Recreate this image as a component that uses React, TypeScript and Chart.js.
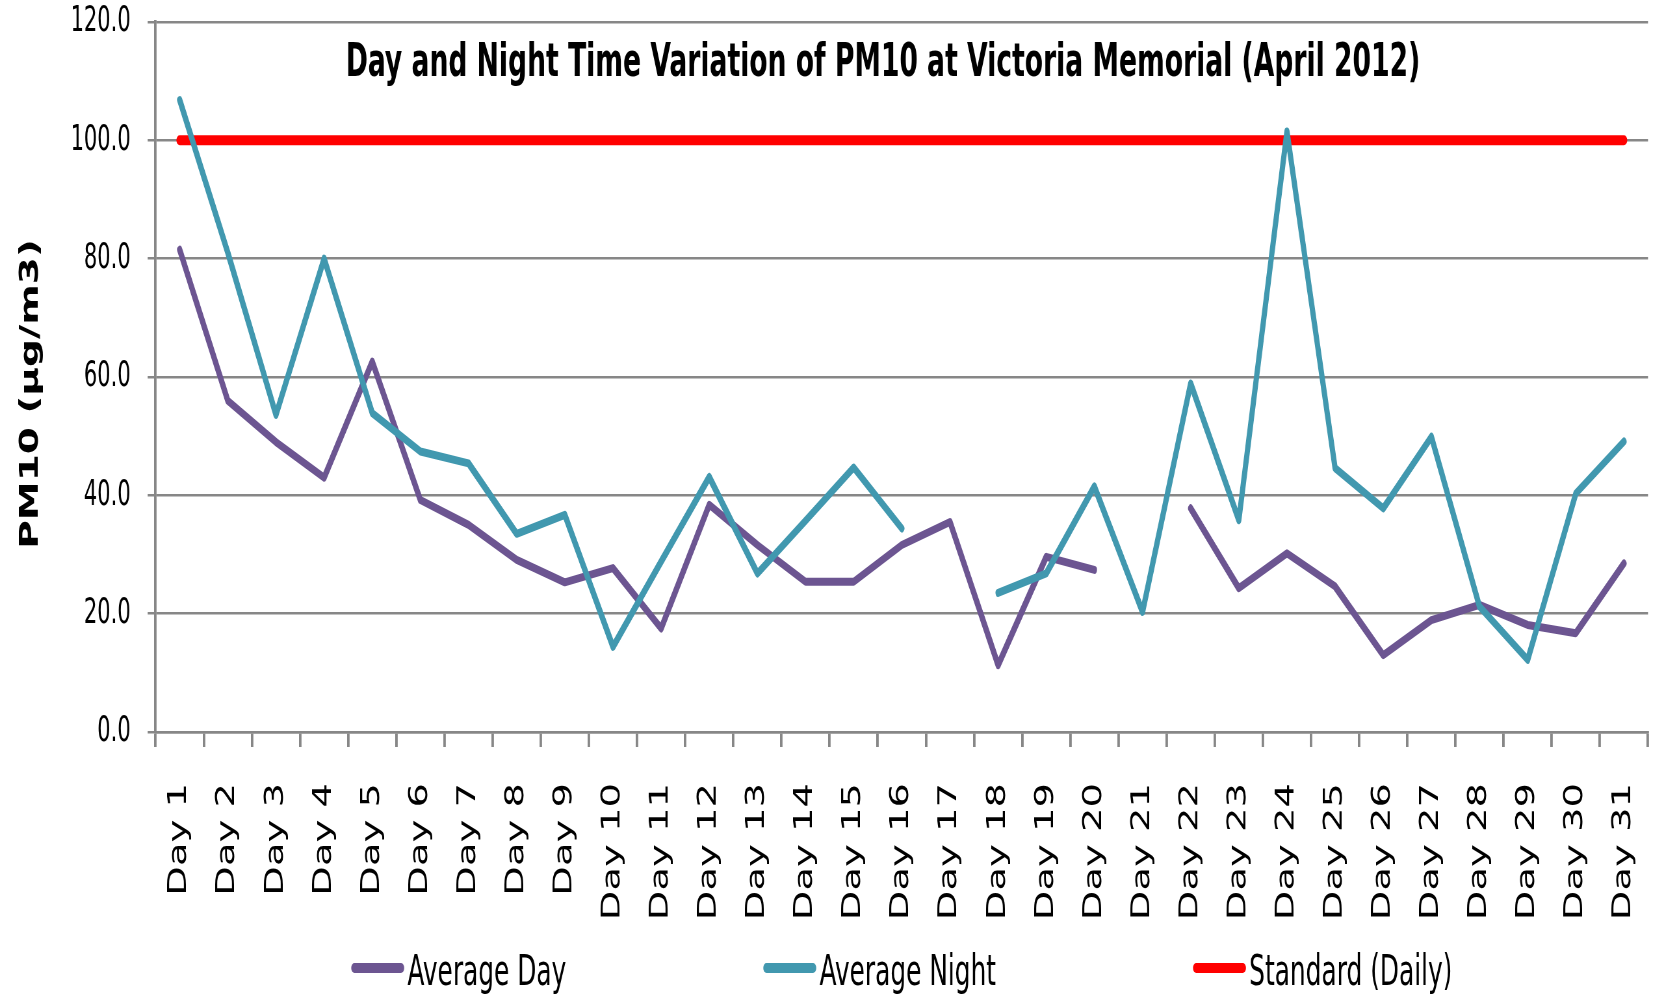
import React, { useEffect, useRef } from 'react';
import { Chart, registerables } from 'chart.js';

Chart.register(...registerables);

const days = [
  'Day 1', 'Day 2', 'Day 3', 'Day 4', 'Day 5', 'Day 6', 'Day 7', 'Day 8', 'Day 9', 'Day 10',
  'Day 11', 'Day 12', 'Day 13', 'Day 14', 'Day 15', 'Day 16', 'Day 17', 'Day 18', 'Day 19', 'Day 20',
  'Day 21', 'Day 22', 'Day 23', 'Day 24', 'Day 25', 'Day 26', 'Day 27', 'Day 28', 'Day 29', 'Day 30', 'Day 31',
];

const averageDay = [
  81.5, 56.0, 49.0, 43.0, 62.6, 39.2, 35.0, 29.1, 25.3, 27.7,
  17.5, 38.4, 31.6, 25.4, 25.4, 31.6, 35.5, 11.3, 29.6, 27.4,
  null, 37.8, 24.3, 30.2, 24.6, 13.0, 18.9, 21.5, 18.1, 16.7, 28.5,
];

const averageNight = [
  106.8, 81.0, 53.6, 80.0, 53.9, 47.4, 45.4, 33.5, 36.7, 14.4,
  28.8, 43.1, 26.8, 35.7, 44.7, 34.4, null, 23.5, 26.8, 41.5,
  20.3, 58.9, 35.8, 101.5, 44.6, 37.8, 49.9, 21.2, 12.2, 40.3, 49.1,
];

const standardDaily = [
  100, 100, 100, 100, 100, 100, 100, 100, 100, 100,
  100, 100, 100, 100, 100, 100, 100, 100, 100, 100,
  100, 100, 100, 100, 100, 100, 100, 100, 100, 100, 100,
];

const seriesNames = ['Average Day', 'Average Night', 'Standard (Daily)'];
const chartTitle = 'Day and Night Time Variation of PM10 at Victoria Memorial (April 2012)';
const yAxisTitle = 'PM10 (µg/m3)';
const yMin = 0;
const yMax = 120;
const yStep = 20;

const SQUEEZE = 0.65;
const OUT_W = 1660;
const OUT_H = 997;
const W = Math.round(OUT_W / SQUEEZE);
const H = OUT_H;

const NARROW = '"DejaVu Sans Condensed", "Liberation Sans Narrow", sans-serif';
const GRID = '#878787';

const titlePlugin = {
  id: 'overlayTitle',
  afterDatasetsDraw(chart: any) {
    const { ctx, chartArea } = chart;
    ctx.save();
    ctx.font = `bold 45.5px ${NARROW}`;
    ctx.fillStyle = '#000';
    ctx.textAlign = 'center';
    ctx.textBaseline = 'alphabetic';
    ctx.fillText(chartTitle, (chartArea.left + chartArea.right) / 2 - 29, 76);
    ctx.restore();
  },
};

const yTitlePlugin = {
  id: 'yAxisTitle',
  afterDraw(chart: any) {
    const { ctx } = chart;
    ctx.save();
    ctx.translate(48, 394);
    ctx.rotate(-Math.PI / 2);
    ctx.font = 'bold 39px "DejaVu Sans", sans-serif';
    ctx.fillStyle = '#000';
    ctx.textAlign = 'center';
    ctx.textBaseline = 'middle';
    ctx.fillText(yAxisTitle, 0, 0);
    ctx.restore();
  },
};

const legendPlugin = {
  id: 'gapLegend',
  afterDraw(chart: any) {
    const { ctx, chartArea } = chart;
    const sets = chart.data.datasets;
    ctx.save();
    ctx.font = `42.5px ${NARROW}`;
    const itemGap = 303;
    const sw = 81.5;
    const textGap = 5;
    const widths = sets.map((ds: any) => sw + textGap + ctx.measureText(ds.label).width);
    const total = widths.reduce((a: number, b: number) => a + b, 0) + itemGap * (sets.length - 1);
    let x = (chartArea.left + chartArea.right) / 2 - total / 2;
    sets.forEach((ds: any, i: number) => {
      ctx.strokeStyle = ds.borderColor;
      ctx.lineWidth = 10;
      ctx.lineCap = 'round';
      ctx.beginPath();
      ctx.moveTo(x + 5, 968);
      ctx.lineTo(x + sw - 5, 968);
      ctx.stroke();
      ctx.fillStyle = '#000';
      ctx.textAlign = 'left';
      ctx.textBaseline = 'alphabetic';
      ctx.fillText(ds.label, x + sw + textGap, 985);
      x += widths[i] + itemGap;
    });
    ctx.restore();
  },
};

export default function App() {
  const canvasRef = useRef<HTMLCanvasElement | null>(null);

  useEffect(() => {
    const canvas = canvasRef.current;
    if (!canvas) return;
    const chart = new Chart(canvas, {
      type: 'line',
      data: {
        labels: days,
        datasets: [
          {
            label: seriesNames[0],
            data: averageDay,
            borderColor: '#6C5591',
            backgroundColor: '#6C5591',
            borderWidth: 8,
            pointRadius: 0,
            borderCapStyle: 'round',
            borderJoinStyle: 'round',
            spanGaps: false,
            order: 1,
          },
          {
            label: seriesNames[1],
            data: averageNight,
            borderColor: '#4198AF',
            backgroundColor: '#4198AF',
            borderWidth: 8,
            pointRadius: 0,
            borderCapStyle: 'round',
            borderJoinStyle: 'round',
            spanGaps: false,
            order: 0,
          },
          {
            label: seriesNames[2],
            data: standardDaily,
            borderColor: '#FF0000',
            backgroundColor: '#FF0000',
            borderWidth: 10,
            pointRadius: 0,
            borderCapStyle: 'round',
            order: 2,
          },
        ],
      },
      options: {
        responsive: false,
        animation: false,
        devicePixelRatio: 1,
        layout: { padding: { top: 22, left: 0, right: 18.6, bottom: 0 } },
        plugins: {
          legend: { display: false },
          title: { display: false },
          tooltip: { enabled: false },
        },
        scales: {
          x: {
            offset: true,
            grid: {
              display: true,
              offset: true,
              drawOnChartArea: false,
              drawTicks: true,
              tickLength: 15,
              color: GRID,
              lineWidth: 3.85,
            },
            border: { display: true, color: GRID, width: 2.5 },
            ticks: {
              autoSkip: false,
              maxRotation: 90,
              minRotation: 90,
              padding: 36,
              color: '#000',
              font: { family: '"DejaVu Sans", sans-serif', size: 38.5 },
            },
            afterFit(scale: any) {
              scale.height = 265;
              scale.paddingLeft = 0;
              scale.paddingRight = 0;
            },
          },
          y: {
            min: yMin,
            max: yMax,
            ticks: {
              stepSize: yStep,
              padding: 26,
              color: '#000',
              font: { family: NARROW, size: 36 },
              callback: (v: any) => Number(v).toFixed(1),
            },
            grid: {
              color: GRID,
              lineWidth: 2.5,
              tickLength: 12.3,
              drawTicks: true,
            },
            border: { display: true, color: GRID, width: 3.85 },
            title: { display: false, text: yAxisTitle },
            afterFit(scale: any) {
              scale.width = 239.4;
              scale.paddingTop = 0;
              scale.paddingBottom = 0;
            },
          },
        },
      },
      plugins: [titlePlugin, yTitlePlugin, legendPlugin],
    } as any);
    return () => {
      chart.destroy();
    };
  }, []);

  return (
    <div
      style={{
        position: 'fixed',
        left: 0,
        top: 0,
        width: OUT_W,
        height: OUT_H,
        overflow: 'hidden',
        background: '#fff',
      }}
    >
      <div
        style={{
          width: W,
          height: H,
          transform: `scaleX(${SQUEEZE})`,
          transformOrigin: '0 0',
        }}
      >
        <canvas ref={canvasRef} width={W} height={H} style={{ display: 'block', width: W, height: H }} />
      </div>
    </div>
  );
}
